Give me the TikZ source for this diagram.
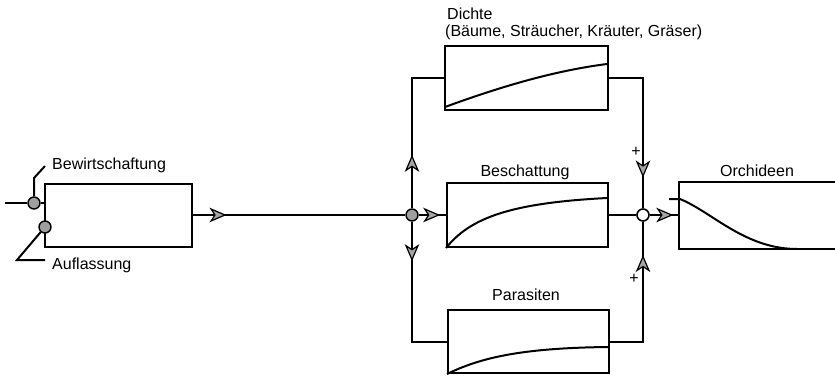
\documentclass[tikz,border=0pt]{standalone}
\usepackage{fontspec}
\setmainfont{Liberation Sans}
\usetikzlibrary{decorations.markings}

\tikzset{
  wire/.style={line width=2pt},
  % grey flow arrowhead placed along a connector, tip at the given distance
  midarrow/.style={postaction={decorate},
    decoration={markings, mark=at position #1 with
      {\filldraw[fill=gray!70, draw=black, line width=1.2pt, line join=miter]
        (0pt,0pt) -- (-14pt,6pt) -- (-10pt,0pt) -- (-14pt,-6pt) -- cycle;}}},
  blk/.style={draw, line width=2pt, inner sep=0pt, minimum width=#1, minimum height=64pt},
  knot/.style={circle, draw, line width=1.4pt, fill=gray!75, minimum size=12pt, inner sep=0pt},
  sumnode/.style={circle, draw, line width=1.6pt, fill=white, minimum size=12pt, inner sep=0pt},
  lbl/.style={font=\fontsize{16}{19}\selectfont, inner sep=0pt},
  curve/.style={line width=2pt}
}

\begin{document}
\begin{tikzpicture}[x=1pt,y=-1pt]
  \useasboundingbox (0,0) rectangle (835,375);
  \clip (0,0) rectangle (835,375);

  % blocks
  \node[blk=147pt, minimum height=63pt] (lbox) at (118.5,215) {};
  \node[blk=163pt] (dichte) at (526.5,78) {};
  \node[blk=161pt] (besch) at (527.5,215) {};
  \node[blk=161pt, minimum height=63pt] (paras) at (528.5,341.5) {};
  \node[blk=200pt, minimum height=67pt] (orch) at (779,215.5) {};

  % junctions
  \node[knot] (bw) at (34,203) {};
  \node[knot] (auf) at (45,227) {};
  \node[knot] (split) at (412,215) {};
  \node[sumnode] (sum) at (643,215) {};

  % labels
  \node[lbl, anchor=west] (bwlab) at (52,165) {Bewirtschaftung};
  \node[lbl, anchor=west] (auflab) at (52,265) {Auflassung};
  \node[lbl, anchor=west] (dlab1) at (447,14) {Dichte};
  \node[lbl, anchor=west] (dlab2) at (445,32) {(Bäume, Sträucher, Kräuter, Gräser)};
  \node[lbl] (blab) at (525,172) {Beschattung};
  \node[lbl] (plab) at (526,295) {Parasiten};
  \node[lbl] (olab) at (757,171) {Orchideen};
  \node[lbl] (plus1) at (636,152) {+};
  \node[lbl] (plus2) at (634,279) {+};

  % input side
  \coordinate (in0) at (5,203);
  \coordinate (bwbend) at (34,178);
  \coordinate (bwend) at (45,166);
  \coordinate (aufbend) at (17,260);
  \coordinate (aufend) at (45,260);
  \draw[wire] (in0) -- (bw) -- (bw -| lbox.west);
  \draw[wire] (bw) -- (bwbend) -- (bwend);
  \draw[wire] (auf) -- (aufbend) -- (aufend);

  % main flow
  \draw[wire, midarrow=32pt] (lbox.east |- split) -- (split);
  \draw[wire, midarrow=52pt] (split) |- (dichte.west);
  \draw[wire, midarrow=38pt] (split) |- (paras.west);
  \draw[wire, midarrow=20pt] (split) -- (besch.west);
  \draw[wire, midarrow=132pt] (dichte.east) -| (sum);
  \draw[wire] (besch.east) -- (sum);
  \draw[wire, midarrow=118pt] (paras.east) -| (sum);
  \draw[wire, midarrow=22pt] (sum) -- (orch.west |- sum);

  % response curves
  \draw[curve] (dichte.south west) ++(1,-4) .. controls (497,88) and (552,71) .. (607,64);
  \draw[curve] (besch.south west) .. controls (470,218) and (510,203) .. (607,198);
  \draw[curve] (paras.south west) .. controls (480,358) and (520,348) .. (608,347);
  \coordinate (otick) at (669,199);
  \draw[curve] (otick) -- (680,199) .. controls (712,212) and (745,249) .. (797,249);
\end{tikzpicture}
\end{document}
